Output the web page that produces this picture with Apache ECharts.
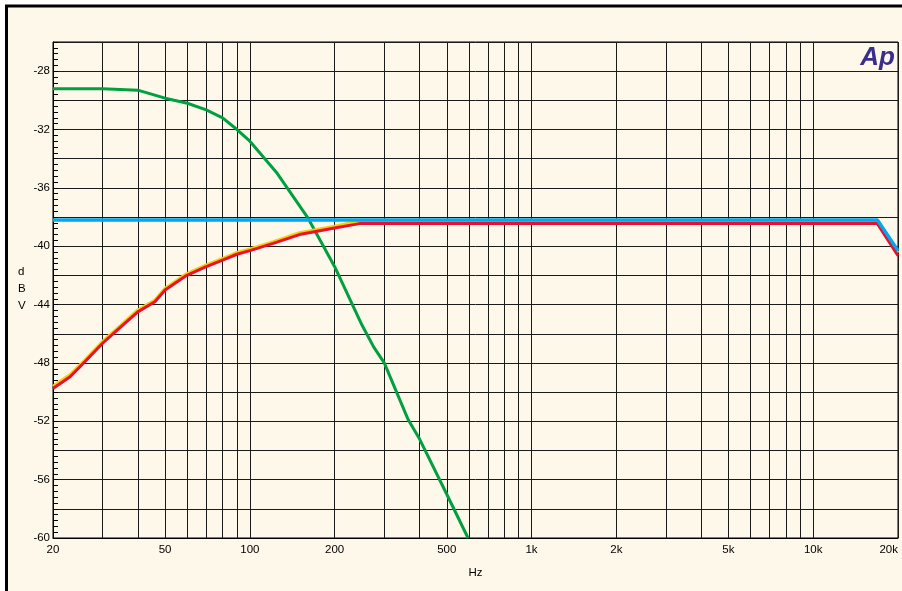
<!DOCTYPE html>
<html>
<head>
<meta charset="utf-8">
<script src="https://cdn.jsdelivr.net/npm/echarts@6/dist/echarts.min.js"></script>
<style>
html,body{margin:0;padding:0;background:#fff;}
#chart{width:902px;height:591px;}
</style>
</head>
<body>
<div id="chart"></div>
<script>
// Frequency (Hz) / level (dBV) pairs
const greenFreq = [20, 30, 40, 50, 60, 70, 80, 90, 100, 125, 160, 200, 250, 275, 300, 365, 400, 500, 595];
const greenLevel = [-29.2, -29.2, -29.3, -29.85, -30.2, -30.65, -31.2, -32.0, -32.8, -35.0, -38.0, -41.4, -45.4, -46.9, -48.0, -51.9, -53.2, -57.0, -60.0];

const redFreq = [20, 23, 26, 30, 34.5, 40, 46, 50, 59, 69, 80, 90, 100, 121, 150, 200, 245, 16900, 20000];
const redLevel = [-49.75, -48.95, -47.9, -46.65, -45.6, -44.5, -43.8, -43.0, -42.05, -41.45, -40.95, -40.55, -40.3, -39.8, -39.2, -38.75, -38.45, -38.45, -40.65];

const yellowFreq = [20, 23, 26, 30, 34.5, 40, 46, 50, 59, 69, 80, 90, 100, 121, 150, 200, 240, 16900, 20000];
const yellowLevel = [-49.6, -48.8, -47.78, -46.52, -45.48, -44.37, -43.68, -42.88, -41.93, -41.33, -40.83, -40.43, -40.18, -39.68, -39.07, -38.62, -38.3, -38.3, -40.45];

const blueFreq = [20, 16900, 20000];
const blueLevel = [-38.2, -38.2, -40.3];

const xGridValues = [20, 30, 40, 50, 60, 70, 80, 90, 100, 200, 300, 400, 500, 600, 700, 800, 900,
  1000, 2000, 3000, 4000, 5000, 6000, 7000, 8000, 9000, 10000, 20000];
const xLabelValues = [20, 50, 100, 200, 500, 1000, 2000, 5000, 10000, 20000];
const yLabelValues = [-28, -32, -36, -40, -44, -48, -52, -56, -60];

function pairs(xs, ys) { return xs.map((x, i) => [x, ys[i]]); }

const chart = echarts.init(document.getElementById('chart'), null, {renderer: 'canvas'});
const FONT = '"Liberation Sans", Arial, sans-serif';

const option = {
  animation: false,
  backgroundColor: '#ffffff',
  graphic: [
    {type: 'rect', z: -10, silent: true,
      shape: {x: 6.5, y: 6, width: 1000, height: 1000},
      style: {fill: '#fef8ea', stroke: '#000', lineWidth: 3}},
    {type: 'text', right: 7, top: 45, z: 100,
      style: {text: 'Ap', font: 'italic bold 26px "Liberation Sans", Arial, sans-serif', fill: '#3a2d8c'}},
    {type: 'text', left: 18, top: 263,
      style: {text: 'd\nB\nV', font: '11.5px ' + FONT, fill: '#000', lineHeight: 17, align: 'left'}}
  ],
  grid: {left: 53, right: 4, top: 42, bottom: 53, show: true, borderColor: '#000', borderWidth: 1, backgroundColor: 'transparent'},
  xAxis: {
    type: 'log', logBase: 10, min: 20, max: 20000,
    name: 'Hz', nameLocation: 'middle', nameGap: 29,
    nameTextStyle: {fontFamily: FONT, fontSize: 11.5, color: '#000'},
    axisLine: {show: true, lineStyle: {color: '#000', width: 1}},
    axisTick: {show: false, customValues: xGridValues},
    axisLabel: {
      customValues: xLabelValues, margin: 6, fontFamily: FONT, fontSize: 11.5, color: '#000',
      alignMaxLabel: 'right',
      formatter: function (v) { return v >= 1000 ? (v / 1000) + 'k' : String(v); }
    },
    splitLine: {show: true, lineStyle: {color: '#1a1a1a', width: 1}},
    minorTick: {show: false}, minorSplitLine: {show: false}
  },
  yAxis: {
    type: 'value', min: -60, max: -26, interval: 2,
    axisLine: {show: true, lineStyle: {color: '#000', width: 1}},
    axisTick: {show: true, inside: true, length: 5, lineStyle: {color: '#000'}},
    minorTick: {show: true, splitNumber: 5, length: 5, lineStyle: {color: '#000'}},
    axisLabel: {
      margin: 3, fontFamily: FONT, fontSize: 11.5, color: '#000', padding: [0, 0, 4, 0],
      formatter: function (v) { return yLabelValues.indexOf(v) >= 0 ? String(v) : ''; }
    },
    splitLine: {show: true, lineStyle: {color: '#1a1a1a', width: 1}}
  },
  series: [
    {name: 'green', type: 'line', data: pairs(greenFreq, greenLevel), symbol: 'none', z: 2,
      lineStyle: {color: '#00a040', width: 3}},
    {name: 'yellow', type: 'line', data: pairs(yellowFreq, yellowLevel), symbol: 'none', z: 3,
      lineStyle: {color: '#f7d000', width: 3}},
    {name: 'red', type: 'line', data: pairs(redFreq, redLevel), symbol: 'none', z: 4,
      lineStyle: {color: '#e8102e', width: 3}},
    {name: 'blue', type: 'line', data: pairs(blueFreq, blueLevel), symbol: 'none', z: 5,
      lineStyle: {color: '#00a8ec', width: 3.5}}
  ]
};
chart.setOption(option);
</script>
</body>
</html>
